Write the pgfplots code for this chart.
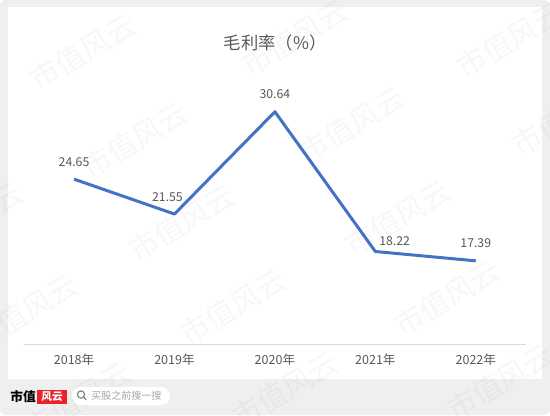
\documentclass[border=0pt]{standalone}
\usepackage{fontspec}
\setmainfont{Noto Sans CJK SC}
\usepackage{pgfplots}
\pgfplotsset{compat=1.18}
\definecolor{txt}{HTML}{595959}
\definecolor{ln}{HTML}{4472C4}
\definecolor{axl}{HTML}{D9D9D9}
\definecolor{bg}{HTML}{EFEFEF}
\definecolor{logored}{HTML}{E8232A}
\definecolor{srch}{HTML}{A6A6A6}
\begin{document}
\begin{tikzpicture}
\begin{scope}[x=0.75pt,y=-0.75pt]
\useasboundingbox (0,0) rectangle (550,415);
\fill[bg, rounded corners=4.5pt] (0,0) rectangle (550,415);
\fill[white] (7.7,6.7) rectangle (542,379);
\begin{scope}
\clip[rounded corners=4.5pt] (0,0) rectangle (550,415);
\foreach \x/\y in {83/52, 295/38, 510/40, 135/140, 352/125, 565/118, -30/220, 182/223, 398/218, 25/312, 233/307, 447/298, 78/400, 285/390, 500/382} {
 \node[rotate=31, font=\fontsize{22pt}{22pt}\selectfont, text=black, opacity=0.03] at (\x,\y) {市值风云};
}
\end{scope}
\node[font=\fontsize{13pt}{13pt}\selectfont, text=txt] at (275.3,43.3) {毛利率（\%）};
\node[font=\bfseries\fontsize{9.6pt}{9.6pt}\selectfont, anchor=west, inner sep=0, text=black] at (10,397) {市值};
\fill[logored] (37,390) rectangle (67,404);
\node[white, font=\bfseries\fontsize{8pt}{8pt}\selectfont] at (52,397) {风云};
\fill[white, rounded corners=6.5pt] (72,387) rectangle (170,405);
\draw[srch!80!black, line width=0.9pt] (81,394.5) circle (3.6);
\draw[srch!80!black, line width=0.9pt] (83.6,397.1) -- (86.3,399.8);
\node[anchor=west, inner sep=0, font=\fontsize{7.5pt}{7.5pt}\selectfont, text=srch] at (91,396) {买股之前搜一搜};
\end{scope}
\begin{axis}[
  at={(17.85pt,-258pt)}, anchor=south west,
  scale only axis, width=376.65pt, height=211pt,
  xmin=-0.5, xmax=4.5, ymin=10, ymax=35,
  axis y line=none, axis x line*=bottom,
  x axis line style={axl, line width=0.75pt, -},
  xtick={0,1,2,3,4},
  xticklabels={2018年,2019年,2020年,2021年,2022年},
  major tick length=0pt,
  ytick=\empty,
  xticklabel style={font=\fontsize{9.4pt}{9.4pt}\selectfont, text=txt, anchor=center, yshift=-12pt},
  clip=false,
  point meta=explicit symbolic,
]
\addplot[ln, line width=2.25pt, line join=round] coordinates {(0,24.65)(1,21.55)(2,30.64)(3,18.22)(4,17.39)};
\addplot[draw=none, nodes near coords, every node near coord/.append style={anchor=center, font=\fontsize{9.2pt}{9.2pt}\selectfont, text=txt, yshift=13pt}] coordinates {(0,24.65)[24.65] (2,30.64)[30.64] (4,17.39)[17.39]};
\addplot[draw=none, nodes near coords, every node near coord/.append style={anchor=center, font=\fontsize{9.2pt}{9.2pt}\selectfont, text=txt, xshift=-5.25pt, yshift=13pt}] coordinates {(1,21.55)[21.55]};
\addplot[draw=none, nodes near coords, every node near coord/.append style={anchor=center, font=\fontsize{9.2pt}{9.2pt}\selectfont, text=txt, xshift=14.5pt, yshift=7.7pt}] coordinates {(3,18.22)[18.22]};
\end{axis}
\end{tikzpicture}
\end{document}
